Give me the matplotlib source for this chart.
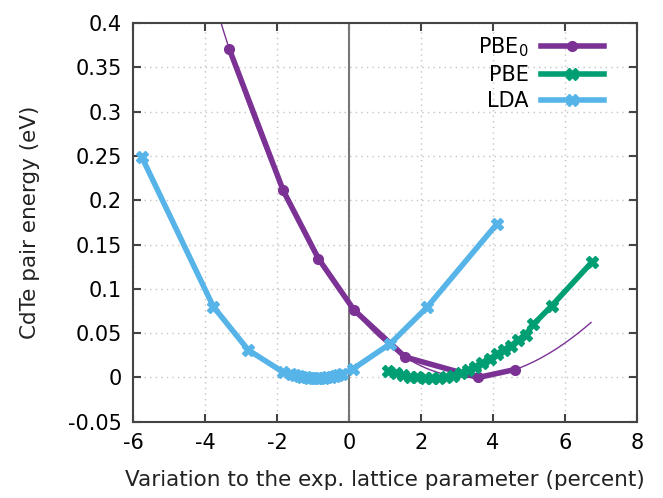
import numpy as np
import matplotlib
matplotlib.use("Agg")
import matplotlib.pyplot as plt

# Energy per CdTe pair vs. relative change of the lattice parameter
pbe0_x = [-3.33, -1.83, -0.85, 0.14, 1.56, 3.59, 4.61]
pbe0_y = [0.371, 0.211, 0.134, 0.076, 0.023, 0.000, 0.009]

pbe_x = [1.08, 1.3, 1.5, 1.7, 1.9, 2.1, 2.3, 2.5, 2.7, 2.9, 3.1, 3.3, 3.5,
         3.7, 3.9, 4.1, 4.3, 4.5, 4.7, 4.9, 5.12, 5.63, 6.74]
pbe_y = [0.007, 0.005, 0.003, 0.001, 0.000, -0.001, -0.001, -0.001, 0.000,
         0.002, 0.005, 0.008, 0.012, 0.016, 0.021, 0.026, 0.031, 0.036,
         0.042, 0.048, 0.060, 0.081, 0.130]

lda_x = [-5.76, -3.77, -2.80, -1.83, -1.6, -1.5, -1.4, -1.3, -1.2, -1.1,
         -1.0, -0.9, -0.8, -0.7, -0.6, -0.5, -0.4, -0.3, -0.2, 0.12, 1.14,
         2.16, 4.10]
lda_y = [0.249, 0.080, 0.031, 0.006, 0.004, 0.0025, 0.0014, 0.0006, 0.0,
         -0.0006, -0.0009, -0.001, -0.0009, -0.0006, 0.0, 0.0006, 0.0014,
         0.0025, 0.0038, 0.010, 0.038, 0.079, 0.173]

x_ticks = [-6, -4, -2, 0, 2, 4, 6, 8]
y_ticks = [-0.05, 0, 0.05, 0.1, 0.15, 0.2, 0.25, 0.3, 0.35, 0.4]
y_ticklabels = ["-0.05", "0", "0.05", "0.1", "0.15", "0.2", "0.25",
                "0.3", "0.35", "0.4"]

c_pbe0 = "#7b3294"
c_pbe = "#009e73"
c_lda = "#56b4e9"

plt.rcParams["font.family"] = ["DejaVu Sans"]

fig = plt.figure(figsize=(6.63, 4.98), dpi=100)
ax = fig.add_axes([0.2006, 0.153, 0.7604, 0.801])

# Birch-Murnaghan fit of the PBE0 energies: E is cubic in a^-2
def bm_var(x):
    return (1.0 + np.asarray(x) / 100.0) ** -2

coef = np.polyfit(bm_var(pbe0_x), pbe0_y, 3)
fx = np.linspace(-3.6, 6.72, 300)
ax.plot(fx, np.polyval(coef, bm_var(fx)), color=c_pbe0, lw=1.0, zorder=2)

ax.axvline(0, color="#777777", lw=1.5, zorder=1)

lw = 4.0
ax.plot(pbe0_x, pbe0_y, color=c_pbe0, lw=lw, marker="o", ms=7,
        label="PBE$_0$", zorder=3)
ax.plot(pbe_x, pbe_y, color=c_pbe, lw=lw, marker="X", ms=8,
        label="PBE", zorder=4)
ax.plot(lda_x, lda_y, color=c_lda, lw=lw, marker="X", ms=8,
        label="LDA", zorder=5)

ax.set_xlim(-6, 8)
ax.set_ylim(-0.05, 0.4)
ax.set_xticks(x_ticks)
ax.set_xticklabels([str(v) for v in x_ticks])
ax.set_yticks(y_ticks)
ax.set_yticklabels(y_ticklabels)

ax.grid(True, color="#c4c4c4", linestyle=(0, (1, 3)), lw=1.0)
ax.set_axisbelow(True)
ax.tick_params(direction="in", length=6, width=1.5, top=True, right=True,
               labelsize=15, color="#444444", pad=8)
for s in ax.spines.values():
    s.set_color("#444444")
    s.set_linewidth(1.5)

ax.set_xlabel("Variation to the exp. lattice parameter (percent)",
              fontsize=15.5, color="#222222", labelpad=12)
ax.set_ylabel("CdTe pair energy (eV)", fontsize=15.5, color="#222222",
              labelpad=20)

ax.legend(loc="upper right", frameon=False, markerfirst=False, fontsize=15,
          handlelength=3.0, labelspacing=0.3, borderaxespad=0.0,
          handletextpad=0.6, bbox_to_anchor=(0.95, 0.99))

fig.savefig("out.png", dpi=100)
